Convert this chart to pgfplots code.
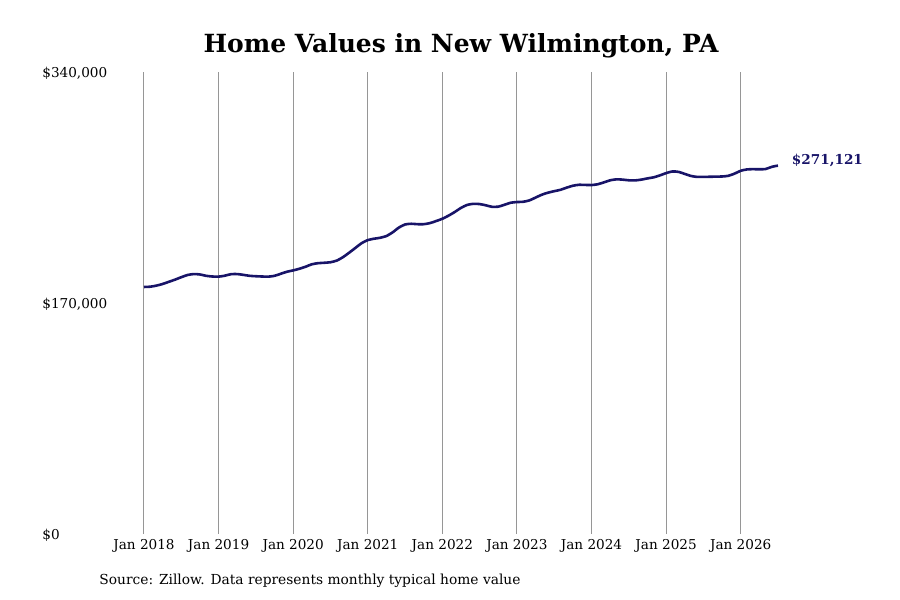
\documentclass[border=0pt]{standalone}
\usepackage{pgfplots}
\pgfplotsset{compat=1.18}
\usepackage{fontspec}
\setmainfont{DejaVu Serif}
\definecolor{navyline}{RGB}{24,20,104}
\definecolor{gridgray}{RGB}{150,150,150}

% monthly typical home value, month 0 = Jan 2018
\pgfplotstableread{
m value
0 181800
1 182000
2 182800
3 184000
4 185600
5 187200
6 189000
7 190600
8 191300
9 191000
10 190000
11 189500
12 189400
13 190100
14 191200
15 191300
16 190700
17 190000
18 189700
19 189500
20 189400
21 190000
22 191500
23 193000
24 194000
25 195200
26 196700
27 198500
28 199300
29 199600
30 200000
31 201200
32 203700
33 207000
34 210500
35 214000
36 216300
37 217300
38 218000
39 219300
40 222000
41 225500
42 227800
43 228300
44 228000
45 228000
46 228800
47 230300
48 232000
49 234300
50 237000
51 240000
52 242200
53 243000
54 242800
55 241900
56 240800
57 240900
58 242300
59 243800
60 244300
61 244500
62 245500
63 247600
64 249700
65 251200
66 252300
67 253300
68 254900
69 256300
70 257000
71 256900
72 256800
73 257400
74 258800
75 260300
76 261000
77 260800
78 260300
79 260200
80 260800
81 261700
82 262500
83 263900
84 265600
85 266800
86 266500
87 265000
88 263500
89 262800
90 262800
91 262900
92 263000
93 263100
94 263600
95 265200
96 267300
97 268300
98 268500
99 268400
100 268600
101 270200
102 271121
}\homevalues

\begin{document}
\begin{tikzpicture}
\path[use as bounding box] (0,0) rectangle (450pt,300pt);
\node[font=\fontsize{12.5}{15}\selectfont\bfseries] at (230.5pt,277pt) {Home Values in New Wilmington, PA};
\node[anchor=west, inner sep=0pt, font=\fontsize{6.9}{8}\selectfont] at (49.5pt,9.5pt) {Source: Zillow. Data represents monthly typical home value};
\begin{axis}[
    at={(72pt,33pt)}, anchor=south west,
    scale only axis,
    width=317pt, height=231pt,
    xmin=0, xmax=102,
    ymin=0, ymax=340000,
    axis line style={draw=none},
    major tick length=0pt,
    xtick={0,12,24,36,48,60,72,84,96},
    xticklabels={Jan 2018,Jan 2019,Jan 2020,Jan 2021,Jan 2022,Jan 2023,Jan 2024,Jan 2025,Jan 2026},
    ytick={0,170000,340000},
    yticklabels={{\$0},{\$170,000},{\$340,000}},
    xmajorgrids,
    grid style={gridgray, line width=0.5pt},
    ticklabel style={font=\fontsize{6.8}{8}\selectfont},
    yticklabel style={anchor=west, inner sep=0pt, xshift=-51pt, yshift=-0.5pt},
    xticklabel style={anchor=north, inner sep=0pt, yshift=-2.5pt},
    clip=false,
    scaled y ticks=false,
]
\addplot[navyline, line width=1.3pt, smooth, tension=0.4] table[x=m, y=value] {\homevalues}
    node[anchor=west, xshift=3pt, yshift=2.5pt, font=\fontsize{6.8}{8}\selectfont\bfseries, text=navyline, pos=1] {\$271,121};
\end{axis}
\end{tikzpicture}
\end{document}
